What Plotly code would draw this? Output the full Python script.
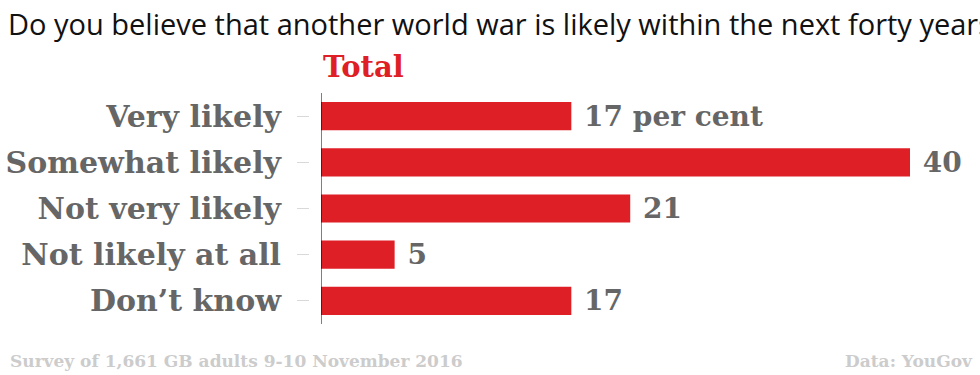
import plotly.graph_objects as go

categories = ["Very likely", "Somewhat likely", "Not very likely", "Not likely at all", "Don’t know"]
values = [17, 40, 21, 5, 17]
series_name = "Total"
title_text = "Do you believe that another world war is likely within the next forty years?"
source_left = "Survey of 1,661 GB adults 9-10 November 2016"
source_right = "Data: YouGov"

labels = [f"{v} per cent" if i == 0 else str(v) for i, v in enumerate(values)]

W, H = 980, 375
ML, MR, MT, MB = 309, 20, 93, 51
PW = W - ML - MR
PH = H - MT - MB
GAP = 12

SLAB = "DejaVu Serif"
RED = "#df1f26"
GREY = "#666666"

fig = go.Figure(go.Bar(
    x=values, y=categories, orientation="h",
    marker=dict(color=RED, line=dict(width=0)),
    text=[" " + t for t in labels], textposition="outside", constraintext="none",
    textfont=dict(family=SLAB, size=28, color=GREY, weight="bold"),
    cliponaxis=False, hoverinfo="skip",
))

fig.update_layout(
    width=W, height=H,
    margin=dict(l=ML, r=MR, t=MT, b=MB, autoexpand=False),
    paper_bgcolor="white", plot_bgcolor="white",
    bargap=0.39,
    showlegend=False,
    title=dict(text=title_text, x=8 / W, xanchor="left", xref="container",
               y=1 - 25 / H, yanchor="middle", yref="container",
               font=dict(family="Open Sans", size=29, color="#111111")),
    xaxis=dict(domain=[GAP / PW, 1], range=[0, 639 / 14.725], visible=False, fixedrange=True),
    yaxis=dict(anchor="free", position=0, autorange="reversed",
               ticks="outside", ticklen=12, tickcolor="#d9d9d9", tickwidth=1,
               showline=False, showgrid=False, ticklabelstandoff=10,
               tickfont=dict(family=SLAB, size=30, color=GREY, weight="bold"),
               automargin=False, fixedrange=True),
    shapes=[dict(type="line", xref="x", x0=0, x1=0, yref="paper", y0=0, y1=1,
                 line=dict(color="#000000", width=1))],
    annotations=[
        dict(text=series_name, xref="x", x=0, xanchor="left", yref="paper", y=1,
             yanchor="middle", yshift=26, showarrow=False,
             font=dict(family=SLAB, size=29, color=RED, weight="bold")),
        dict(text=source_left, xref="paper", x=(8 - ML) / PW, xanchor="left",
             yref="paper", y=0, yshift=-37, yanchor="middle", showarrow=False,
             font=dict(family=SLAB, size=17, color="#cccccc", weight="bold")),
        dict(text=source_right, xref="paper", x=(975 - ML) / PW, xanchor="right",
             yref="paper", y=0, yshift=-37, yanchor="middle", showarrow=False,
             font=dict(family=SLAB, size=17, color="#cccccc", weight="bold")),
    ],
)

fig.write_html("out.html", config={"displayModeBar": False},
               post_script="document.body.style.margin='0';document.body.style.overflow='hidden';")
